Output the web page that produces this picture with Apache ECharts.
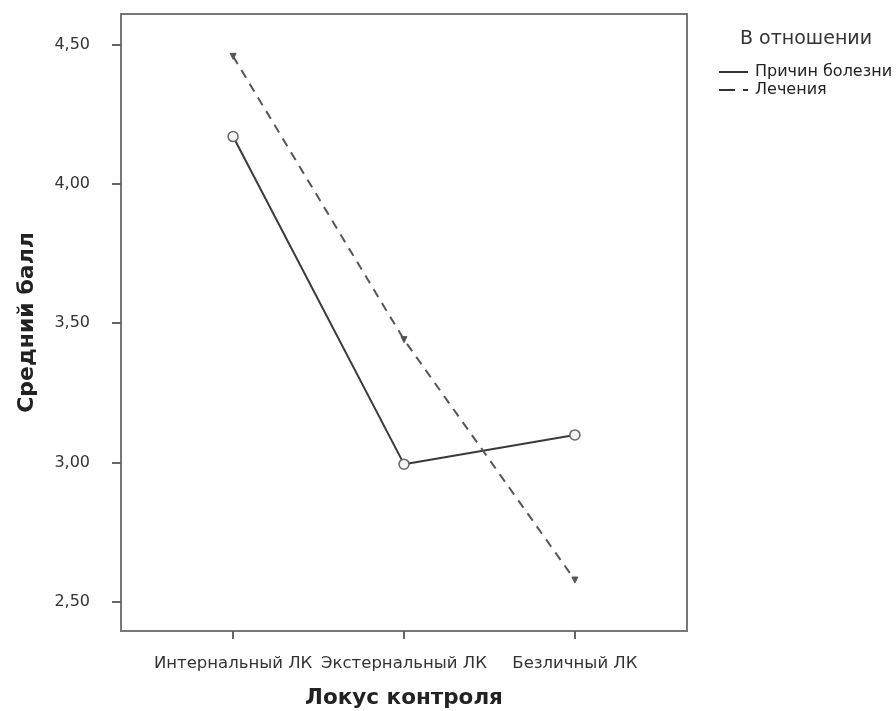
<!DOCTYPE html>
<html><head><meta charset="utf-8">
<script src="https://cdn.jsdelivr.net/npm/echarts@6/dist/echarts.min.js"></script>
<style>html,body{margin:0;padding:0;background:#fff}#c{width:896px;height:711px}</style>
</head><body><div id="c"></div>
<script>
const categories = ['Интернальный ЛК', 'Экстернальный ЛК', 'Безличный ЛК'];
const causes = [4.170, 2.994, 3.099];      // Причин болезни
const treatment = [4.458, 3.441, 2.578];   // Лечения
const yTicks = [2.5, 3.0, 3.5, 4.0, 4.5];
const legendTitle = 'В отношении';
const seriesNames = ['Причин болезни', 'Лечения'];

const chart = echarts.init(document.getElementById('c'), null, {renderer: 'canvas'});
const font = '"DejaVu Sans", Arial, sans-serif';
const xIdx = categories.map((c, i) => i);
chart.setOption({
  backgroundColor: '#fff',
  animation: false,
  textStyle: {fontFamily: font},
  title: {
    text: legendTitle, left: 740, top: 30, padding: 0,
    textStyle: {fontSize: 19, fontWeight: 'normal', color: '#333', fontFamily: font}
  },
  legend: {
    orient: 'vertical', left: 719, top: 64, itemGap: 2, padding: 0,
    itemWidth: 29, itemHeight: 2,
    textStyle: {fontSize: 16, color: '#222', fontFamily: font, padding: [0, 0, 0, 2]},
    data: [
      {name: seriesNames[0], icon: 'path://M0,0h29v2h-29z', itemStyle: {color: '#333', borderWidth: 0}},
      {name: seriesNames[1], icon: 'path://M0,0h16v2h-16z M24,0h5v2h-5z', itemStyle: {color: '#333', borderWidth: 0}}
    ]
  },
  grid: {left: 121, top: 14, right: 209, bottom: 80, show: true, borderColor: '#777', borderWidth: 2,
    backgroundColor: '#fff', containLabel: false, outerBoundsMode: 'none'},
  xAxis: {
    type: 'value', min: -0.656, max: 2.656,
    name: 'Локус контроля', nameLocation: 'middle', nameGap: 56,
    nameTextStyle: {fontSize: 21.5, fontWeight: 'bold', color: '#222', fontFamily: font},
    axisLine: {show: true, onZero: false, lineStyle: {color: '#777', width: 2}},
    axisTick: {show: true, length: 8, customValues: xIdx, lineStyle: {color: '#666', width: 2}},
    axisLabel: {customValues: xIdx, margin: 24, fontSize: 16.5, color: '#333',
      formatter: v => categories[Math.round(v)] || ''},
    splitLine: {show: false}
  },
  yAxis: {
    type: 'value', min: 2.395, max: 4.61,
    name: 'Средний балл', nameLocation: 'middle', nameGap: 83, nameRotate: 90,
    nameTextStyle: {fontSize: 22, fontWeight: 'bold', color: '#222', fontFamily: font},
    axisLine: {show: true, onZero: false, lineStyle: {color: '#777', width: 2}},
    axisTick: {show: true, length: 9, customValues: yTicks, lineStyle: {color: '#666', width: 2}},
    axisLabel: {customValues: yTicks, margin: 31, fontSize: 16, color: '#333',
      formatter: v => v.toFixed(2).replace('.', ',')},
    splitLine: {show: false}
  },
  series: [
    {
      name: seriesNames[0], type: 'line',
      data: causes.map((v, i) => [xIdx[i], v]),
      symbol: 'circle', symbolSize: 10,
      itemStyle: {color: '#f4f4f4', borderColor: '#666', borderWidth: 1.5},
      lineStyle: {color: '#3a3a3a', width: 2, type: 'solid'}
    },
    {
      name: seriesNames[1], type: 'line',
      data: treatment.map((v, i) => [xIdx[i], v]),
      symbol: 'triangle', symbolSize: 6, symbolRotate: 180,
      itemStyle: {color: '#555', borderColor: '#555'},
      lineStyle: {color: '#555', width: 2, type: [9, 7]}
    }
  ]
});
</script></body></html>
